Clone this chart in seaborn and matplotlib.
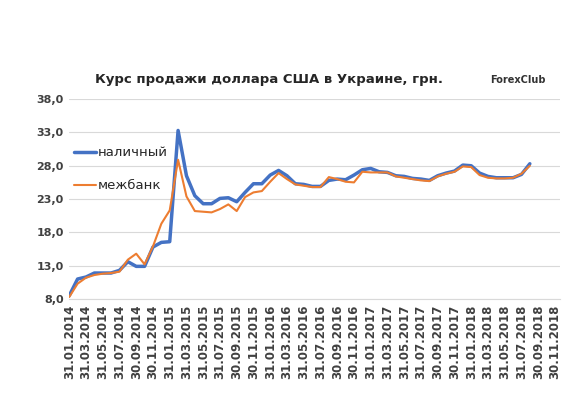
import matplotlib
matplotlib.use("Agg")
import matplotlib.pyplot as plt
import pandas as pd
import seaborn as sns

# monthly rates, Jan 2014 .. Aug 2018
cash = [8.5, 11.0, 11.3, 11.9, 11.9, 11.9, 12.3, 13.6, 12.9, 12.9, 15.8, 16.5,
        16.6, 33.3, 26.5, 23.5, 22.3, 22.3, 23.1, 23.2, 22.6, 24.0, 25.3, 25.3,
        26.6, 27.3, 26.5, 25.3, 25.2, 24.9, 24.9, 25.8, 26.0, 25.9, 26.6, 27.4,
        27.6, 27.1, 27.0, 26.5, 26.4, 26.1, 26.0, 25.8, 26.5, 26.9, 27.2, 28.1,
        28.0, 26.9, 26.4, 26.2, 26.2, 26.2, 26.7, 28.3]
interbank = [8.3, 10.3, 11.2, 11.6, 11.8, 11.9, 12.1, 13.9, 14.8, 13.2, 15.9, 19.3,
             21.3, 28.9, 23.4, 21.2, 21.1, 21.0, 21.5, 22.2, 21.2, 23.3, 24.0, 24.2,
             25.6, 26.9, 26.0, 25.2, 25.0, 24.8, 24.8, 26.3, 26.0, 25.6, 25.5, 27.1,
             27.0, 27.0, 27.0, 26.4, 26.2, 26.0, 25.8, 25.7, 26.4, 26.8, 27.1, 27.9,
             27.8, 26.6, 26.2, 26.1, 26.1, 26.2, 26.8, 28.0]
tick_labels = [d.strftime("%d.%m.%Y") for d in
               pd.date_range("2014-01-31", "2018-11-30", freq="ME")][::2]
y_ticks = [8, 13, 18, 23, 28, 33, 38]

df = pd.DataFrame({"idx": range(len(cash)), "cash": cash, "interbank": interbank})

sns.set_style("white")
fig = plt.figure(figsize=(5.72, 4.13), dpi=100)
ax = fig.add_axes([0.121, 0.276, 0.858, 0.484])

sns.lineplot(data=df, x="idx", y="cash", ax=ax, color="#4472C4", linewidth=2.5,
             label="наличный")
sns.lineplot(data=df, x="idx", y="interbank", ax=ax, color="#ED7D31", linewidth=1.5,
             label="межбанк")

ax.set_xlim(0, 58.6)
ax.set_ylim(8, 38)
ax.set_yticks(y_ticks)
ax.set_yticklabels([f"{v:.1f}".replace(".", ",") for v in y_ticks],
                   fontsize=8, fontweight="bold", color="#404040")
ax.set_xticks(range(0, 59, 2))
ax.set_xticklabels(tick_labels, rotation=90, fontsize=8.5, fontweight="bold",
                   color="#404040")
ax.tick_params(axis="both", length=0, pad=4)
ax.yaxis.grid(True, color="#D9D9D9", linewidth=0.8)
ax.set_xlabel("")
ax.set_ylabel("")
for s in ["top", "right", "left"]:
    ax.spines[s].set_visible(False)
ax.spines["bottom"].set_color("#D9D9D9")

ax.legend(loc="upper left", bbox_to_anchor=(0.0, 0.79), frameon=False, fontsize=9.5,
          handlelength=1.6, handletextpad=0.2, labelspacing=1.5, borderaxespad=0)

fig.text(0.47, 0.8, "Курс продажи доллара США в Украине, грн.", ha="center",
         fontsize=9.5, fontweight="bold")
fig.text(0.905, 0.8, "ForexClub", ha="center", fontsize=7, fontweight="bold",
         color="#333333")

fig.savefig("out.png", dpi=100)
